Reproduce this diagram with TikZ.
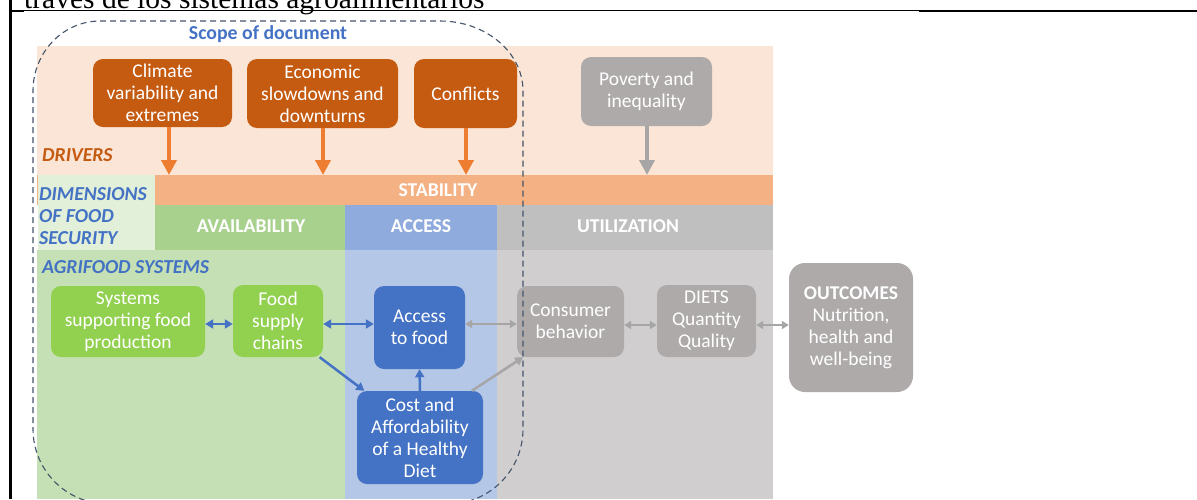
\documentclass[tikz,border=0pt]{standalone}
\usepackage{fontspec}
\setmainfont{Carlito}
\newfontfamily\serifx{Liberation Serif}
\usetikzlibrary{arrows.meta,calc}
\definecolor{peach}{HTML}{FBE5D6}
\definecolor{stabc}{HTML}{F4B183}
\definecolor{dimsc}{HTML}{E2F0D9}
\definecolor{availc}{HTML}{A9D18E}
\definecolor{accc}{HTML}{8FAADC}
\definecolor{utilc}{HTML}{BFBFBF}
\definecolor{greenbg}{HTML}{C5E0B4}
\definecolor{bluebg}{HTML}{B4C7E7}
\definecolor{graybg}{HTML}{D0CECE}
\definecolor{drvbox}{HTML}{C55A11}
\definecolor{graybox}{HTML}{AEAAAA}
\definecolor{oarr}{HTML}{ED7D31}
\definecolor{garr}{HTML}{A6A6A6}
\definecolor{greenbox}{HTML}{92D050}
\definecolor{bluebox}{HTML}{4472C4}
\definecolor{scopec}{HTML}{44546A}
\begin{document}
\begin{tikzpicture}[x=1pt,y=-1pt,
  txt/.style={font=\fontsize{19.5}{22}\selectfont},
  rbox/.style={txt, rounded corners=10pt, inner sep=0pt, align=center, text=white},
  drv/.style={rbox, fill=drvbox},
  gbox/.style={rbox, fill=graybox},
  grbox/.style={rbox, fill=greenbox},
  blbox/.style={rbox, fill=bluebox},
  hdr/.style={font=\fontsize{19.6}{22}\selectfont\bfseries, text=white, inner sep=0pt},
  lblb/.style={font=\fontsize{19.8}{22}\selectfont\bfseries\itshape, text=bluebox, inner sep=0pt, align=left},
  lblo/.style={font=\fontsize{19.8}{22}\selectfont\bfseries\itshape, text=drvbox, inner sep=0pt},
  oarrow/.style={draw=oarr, line width=4pt, -{Triangle[width=15pt,length=15pt]}},
  parrow/.style={draw=garr, line width=4pt, -{Triangle[width=15pt,length=15pt]}},
  barrow/.style={draw=bluebox, line width=2.5pt, -{Triangle[width=9pt,length=8pt]}},
  bdarrow/.style={draw=bluebox, line width=2.5pt, {Triangle[width=9pt,length=8pt]}-{Triangle[width=9pt,length=8pt]}},
  garrow/.style={draw=garr, line width=2.5pt, -{Triangle[width=9pt,length=8pt]}},
  gdarrow/.style={draw=garr, line width=2.2pt, {Triangle[width=8pt,length=7pt]}-{Triangle[width=8pt,length=7pt]}},
  scopeline/.style={draw=scopec, line width=1.1pt, dash pattern=on 6pt off 4pt}
]
\useasboundingbox (0,0) rectangle (1197,499);
\clip (0,0) rectangle (1197,499);
\fill[white] (0,0) rectangle (1197,499);

% page fragments
\node[font=\serifx\fontsize{29.5}{30}\selectfont, anchor=base west, inner sep=0pt] (caption) at (24,8.5) {través de los sistemas agroalimentarios};
\fill[black] (9,0) rectangle (11.5,499);
\fill[black] (10,9.8) rectangle (24,11.8);
\fill[black] (24,10.2) rectangle (919,11.2);
\fill[black] (919,9.8) rectangle (1197,11.8);

% backgrounds
\fill[peach] (37,46) rectangle (773,175);
\fill[stabc] (37,175) rectangle (773,205);
\fill[dimsc] (38,175) rectangle (155,250);
\fill[availc] (155,205) rectangle (345,250);
\fill[accc] (345,205) rectangle (497,250);
\fill[utilc] (497,205) rectangle (773,250);
\fill[greenbg] (37,250) rectangle (345,499);
\fill[bluebg] (345,250) rectangle (497,499);
\fill[graybg] (497,250) rectangle (773,499);

% labels
\node[hdr] (stab) at (438,190) {STABILITY};
\node[hdr] (avail) at (251,226) {AVAILABILITY};
\node[hdr] (acc) at (421,226) {ACCESS};
\node[hdr] (util) at (628,226) {UTILIZATION};
\node[lblo, anchor=west] (drvl) at (42,155) {DRIVERS};
\node[lblb, anchor=west] (dims) at (39,216) {DIMENSIONS\\OF FOOD\\SECURITY};
\node[lblb, anchor=west] (agri) at (42,267) {AGRIFOOD SYSTEMS};
\node[font=\fontsize{19.8}{22}\selectfont\bfseries, text=bluebox, inner sep=0pt] (scope) at (268,34) {Scope of document};

% drivers
\node[drv, minimum width=139pt, minimum height=68pt] (clim) at (162.5,93) {Climate\\variability and\\extremes};
\node[drv, minimum width=151pt, minimum height=69pt] (econ) at (322.5,93.5) {Economic\\slowdowns and\\downturns};
\node[drv, minimum width=103pt, minimum height=69pt] (conf) at (465.5,93.5) {Conflicts};
\node[gbox, minimum width=131pt, minimum height=69pt] (pov) at (646.5,91.5) {\raisebox{-2pt}{Poverty and}\\\raisebox{-2pt}{inequality}};

\coordinate (a1) at (169,175);
\coordinate (a2) at (323,175);
\coordinate (a3) at (466,175);
\coordinate (a4) at (647,175);
\draw[oarrow] (clim.south -| a1) -- (a1);
\draw[oarrow] (econ.south -| a2) -- (a2);
\draw[oarrow] (conf.south -| a3) -- (a3);
\draw[parrow] (pov.south -| a4) -- (a4);

% agrifood boxes
\node[grbox, minimum width=154pt, minimum height=71pt] (sys) at (128,321.5) {Systems\\supporting food\\production};
\node[grbox, minimum width=90pt, minimum height=72pt] (food) at (278,321) {Food\\supply\\chains};
\node[blbox, minimum width=91pt, minimum height=83pt] (access) at (419.5,327.5) {Access\\to food};
\node[blbox, minimum width=126pt, minimum height=93pt] (cost) at (420,437.5) {Cost and\\Affordability\\of a Healthy\\Diet};
\node[gbox, minimum width=107pt, minimum height=71pt] (cons) at (570.5,321.5) {Consumer\\behavior};
\node[gbox, minimum width=99pt, minimum height=72pt] (diets) at (706.5,321) {DIETS\\Quantity\\Quality};
\node[gbox, rounded corners=16pt, minimum width=124pt, minimum height=129pt] (outc) at (851,327.5) {\textbf{OUTCOMES}\\Nutrition,\\health and\\well-being};

\coordinate (row) at (0,324);
\coordinate (row2) at (0,325);
\draw[bdarrow] (sys.east |- row) -- (food.west |- row);
\draw[bdarrow] (food.east |- row) -- (access.west |- row);
\draw[barrow] (food.-41) -- (cost.140);
\draw[barrow] (cost.north) -- (access.south);
\draw[gdarrow] (access.east |- row) -- (cons.west |- row);
\draw[garrow] (cost.42) -- (cons.217);
\draw[gdarrow] (cons.east |- row2) -- (diets.west |- row2);
\draw[gdarrow] (diets.east |- row2) -- (outc.west |- row2);

% scope of document
\draw[scopeline] (100,21) -- (440,21)
  arc[start angle=270, end angle=360, x radius=83, y radius=70]
  -- (523,429) arc[start angle=0, end angle=90, radius=75]
  -- (108,504) arc[start angle=90, end angle=180, radius=75]
  -- (33,91) arc[start angle=180, end angle=270, x radius=67, y radius=70]
  -- cycle;
\end{tikzpicture}
\end{document}
